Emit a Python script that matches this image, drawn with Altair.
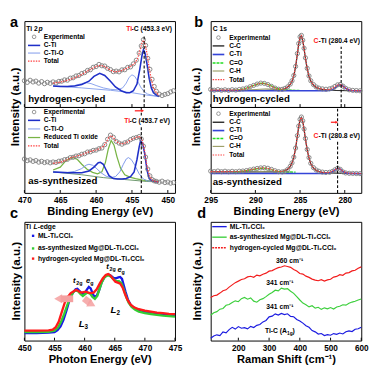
import altair as alt
import pandas as pd

FONT = "Liberation Sans"
W, HAB, HCD = 156, 89, 123

# ================= DATA =================
# --- Panel a: Ti 2p XPS ---
a_exp_E = [470.0, 469.6, 469.2, 468.8, 468.4, 468.0, 467.6, 467.2, 466.8, 466.4, 466.0, 465.6, 465.2, 464.8,
           464.4, 464.0, 463.6, 463.2, 462.8, 462.4, 462.0, 461.6, 461.2, 460.8, 460.4, 460.0, 459.6, 459.2,
           458.8, 458.4, 458.0, 457.6, 457.2, 456.8, 456.4, 456.0, 455.6, 455.2, 454.8, 454.4, 454.0,
           453.7, 453.4, 453.1, 452.8, 452.5, 452.2, 451.9, 451.6,
           451.2, 450.8, 450.4, 450.0, 449.6, 449.2]
a1_exp_v = [27.5, 25.8, 28.0, 26.2, 27.1, 25.0, 26.6, 24.4, 25.9, 24.8, 26.3, 25.2, 26.8, 27.0,
            28.4, 28.1, 30.2, 30.6, 32.5, 33.0, 35.1, 36.0, 38.3, 39.0, 41.6, 42.4, 44.6, 43.2,
            42.9, 40.5, 39.2, 37.0, 37.6, 36.8, 38.9, 39.0, 41.5, 42.0, 45.2, 49.0, 56.5,
            64.0, 70.5, 64.5, 51.0, 39.5, 29.0, 21.5, 16.5,
            13.5, 12.0, 13.2, 14.0, 15.8, 17.0]
a2_exp_v = [35.5, 33.8, 34.6, 33.0, 33.9, 32.2, 33.1, 31.8, 32.6, 31.5, 32.4, 31.9, 33.2, 33.5,
            34.8, 35.2, 37.0, 37.3, 38.6, 38.9, 40.5, 41.0, 42.8, 43.0, 44.5, 44.8, 46.3, 47.0,
            50.5, 56.2, 60.5, 58.3, 54.0, 52.2, 51.0, 52.5, 53.4, 55.8, 57.2, 58.0, 59.0,
            56.5, 49.0, 37.5, 25.0, 17.8, 14.0, 12.6, 12.0,
            11.2, 12.3, 10.8, 11.4, 10.2, 10.8]

a1_bg_E = [466.0, 462.0, 458.0, 455.0, 453.0, 451.2]
a1_bg_v = [22.0, 20.0, 17.5, 15.0, 12.5, 11.0]
a1_cti_E = [466.0, 465.0, 464.0, 463.0, 462.0, 461.0, 460.3, 459.5, 458.8, 458.0, 457.3, 456.5, 455.8,
            455.3, 454.8, 454.3, 453.9, 453.6, 453.4, 453.2, 452.9, 452.6, 452.3, 452.0, 451.6, 451.2]
a1_cti_v = [22.0, 21.5, 21.5, 22.0, 23.5, 27.0, 32.0, 35.3, 33.0, 27.0, 21.0, 17.0, 15.0,
            15.0, 17.0, 24.0, 40.0, 54.0, 60.0, 57.0, 45.0, 30.0, 20.0, 15.0, 12.5, 11.0]
a1_ctio_E = [466.0, 464.0, 463.0, 462.0, 461.4, 460.7, 460.0, 459.0, 458.0, 457.0, 456.3, 455.8, 455.4,
             455.0, 454.6, 454.2, 453.8, 453.3, 452.8, 452.0, 451.2]
a1_ctio_v = [22.0, 21.5, 22.5, 24.5, 25.5, 24.5, 22.5, 20.0, 18.5, 18.0, 20.0, 25.0, 31.0,
             33.7, 32.0, 27.0, 21.0, 16.0, 13.5, 12.0, 11.0]
a1_tot_E = [466.0, 465.0, 464.0, 463.0, 462.0, 461.0, 460.0, 459.5, 459.0, 458.5, 458.0, 457.5, 457.0,
            456.5, 456.0, 455.5, 455.0, 454.6, 454.2, 453.9, 453.6, 453.4, 453.2, 452.9, 452.6, 452.3,
            452.0, 451.6, 451.2]
a1_tot_v = [25.0, 26.0, 28.0, 30.5, 34.0, 38.5, 42.5, 43.5, 43.0, 41.0, 38.5, 37.0, 37.0,
            38.0, 39.5, 41.5, 43.5, 46.0, 51.0, 59.0, 67.0, 70.0, 67.0, 56.0, 41.0, 29.0,
            20.0, 15.0, 12.0]

a2_bg_E = [466.0, 462.0, 459.0, 456.0, 453.0, 451.3]
a2_bg_v = [22.0, 19.0, 16.0, 14.0, 12.0, 11.5]
a2_rto_E = [466.0, 465.0, 464.3, 463.6, 463.2, 462.6, 462.0, 461.3, 460.5, 459.8, 459.2, 458.7, 458.3,
            457.9, 457.5, 457.1, 456.6, 456.0, 455.3, 454.5, 453.5, 452.5, 451.3]
a2_rto_v = [24.0, 27.0, 33.0, 36.5, 37.0, 35.0, 30.0, 25.0, 21.5, 20.0, 22.0, 32.0, 46.0,
            55.0, 50.0, 38.0, 26.0, 19.0, 16.5, 15.0, 13.5, 12.5, 12.0]
a2_cti_E = [466.0, 464.0, 462.0, 461.0, 460.3, 459.7, 459.4, 459.0, 458.6, 458.2, 457.6, 457.0, 456.4,
            455.8, 455.2, 454.7, 454.3, 454.0, 453.8, 453.5, 453.2, 452.9, 452.6, 452.2, 451.3]
a2_cti_v = [22.0, 21.0, 21.0, 23.0, 27.0, 31.5, 32.0, 30.0, 24.0, 18.0, 15.0, 14.5, 14.5,
            15.0, 17.0, 22.0, 35.0, 48.0, 54.5, 52.0, 40.0, 24.0, 15.0, 12.5, 11.5]
a2_ctio_E = [466.0, 464.0, 463.0, 462.0, 461.4, 461.0, 460.5, 460.0, 459.3, 458.6, 458.0, 457.3, 456.7,
             456.2, 455.8, 455.5, 455.1, 454.6, 454.0, 453.4, 452.8, 451.3]
a2_ctio_v = [22.0, 21.5, 22.5, 25.5, 29.0, 30.0, 29.0, 26.0, 21.0, 17.5, 16.0, 17.0, 22.0,
             30.0, 35.5, 37.0, 35.0, 29.0, 20.0, 14.5, 12.5, 11.5]
a2_tot_E = [466.0, 465.0, 464.0, 463.5, 463.0, 462.0, 461.5, 461.0, 460.5, 460.0, 459.5, 459.0, 458.6,
            458.2, 457.9, 457.6, 457.2, 456.8, 456.3, 455.8, 455.3, 454.8, 454.3, 453.9, 453.6, 453.3,
            453.1, 452.9, 452.6, 452.3, 452.0, 451.3]
a2_tot_v = [31.0, 32.0, 35.0, 37.0, 38.0, 40.0, 41.5, 43.0, 44.0, 45.0, 46.5, 48.5, 53.0,
            58.5, 60.0, 58.0, 54.0, 52.0, 51.5, 52.5, 55.0, 57.0, 58.5, 59.0, 56.0, 47.0,
            37.0, 28.0, 19.0, 14.5, 12.5, 11.5]

# --- Panel b: C 1s XPS ---
b_exp_E = [295.0, 294.6, 294.2, 293.8, 293.4, 293.0, 292.6, 292.2, 291.8, 291.4, 291.0, 290.6, 290.2,
           289.8, 289.4, 289.0, 288.6, 288.2, 287.8, 287.4, 287.0, 286.7, 286.4, 286.1, 285.9, 285.7,
           285.5, 285.3, 285.15, 285.0, 284.85, 284.7, 284.55, 284.4, 284.2, 284.0, 283.8, 283.5,
           283.2, 282.9, 282.5, 282.1, 281.7, 281.4, 281.1, 280.8, 280.5, 280.2, 279.9, 279.5,
           279.1, 278.7, 278.3]
b1_exp_v = [18.4, 17.6, 18.2, 17.5, 18.0, 17.4, 18.1, 17.7, 18.3, 18.9, 19.8, 21.2, 22.6,
            24.0, 25.0, 24.7, 23.5, 21.6, 19.8, 18.6, 18.5, 19.4, 21.0, 24.0, 27.5, 33.0,
            42.5, 56.0, 66.5, 73.5, 75.0, 70.0, 61.5, 51.5, 40.5, 32.5, 27.5, 23.5,
            21.0, 19.8, 19.0, 18.6, 19.0, 19.8, 21.5, 23.2, 23.6, 21.8, 19.6, 18.0,
            17.4, 17.2, 17.0]
b2_exp_v = [22.8, 22.3, 22.9, 22.2, 22.7, 22.1, 22.6, 22.2, 22.7, 22.9, 23.4, 24.1, 24.9,
            25.6, 26.2, 26.4, 25.8, 24.6, 23.2, 22.2, 22.0, 22.6, 24.5, 27.8, 31.5, 37.5,
            47.0, 60.0, 70.0, 77.0, 79.5, 75.5, 67.0, 57.0, 45.5, 37.0, 31.0, 26.5,
            24.0, 22.7, 21.8, 21.4, 21.6, 22.4, 24.2, 25.9, 24.6, 22.0, 20.9, 20.5,
            20.4, 20.3, 20.2]

b_cc_E = [295.0, 289.0, 287.5, 287.0, 286.7, 286.4, 286.1, 285.9, 285.7, 285.5, 285.3, 285.15, 285.0,
          284.85, 284.7, 284.55, 284.4, 284.2, 284.0, 283.8, 283.5, 283.2, 282.9, 282.5, 282.0,
          281.0, 279.5, 278.2]
b1_cc_v = [17.4, 17.5, 17.8, 18.3, 19.2, 20.8, 23.6, 27.0, 32.6, 42.0, 55.5, 66.0, 73.0,
           74.5, 69.5, 61.0, 51.0, 40.0, 32.0, 27.0, 23.0, 20.5, 19.3, 18.5, 17.9,
           17.4, 17.1, 17.0]
b2_cc_v = [22.0, 22.0, 22.1, 22.4, 23.0, 24.6, 27.6, 31.2, 37.2, 46.6, 59.6, 69.5, 76.5,
           79.0, 75.0, 66.5, 56.5, 45.0, 36.5, 30.5, 26.0, 23.6, 22.3, 21.4, 20.9,
           20.6, 20.4, 20.2]
b_tot_E = [295.0, 292.0, 291.4, 291.0, 290.6, 290.2, 289.8, 289.4, 289.0, 288.6, 288.2, 287.8, 287.4,
           287.0, 286.7, 286.4, 286.1, 285.9, 285.7, 285.5, 285.3, 285.15, 285.0, 284.85, 284.7,
           284.55, 284.4, 284.2, 284.0, 283.8, 283.5, 283.2, 282.9, 282.5, 282.0, 281.7, 281.4,
           281.1, 280.8, 280.5, 280.2, 279.9, 279.5, 279.1, 278.2]
b1_tot_v = [17.6, 17.7, 18.6, 19.6, 21.0, 22.6, 24.0, 24.9, 24.6, 23.4, 21.6, 19.8, 18.7,
            18.6, 19.4, 20.9, 23.8, 27.2, 32.8, 42.2, 55.7, 66.2, 73.2, 74.7, 69.7,
            61.2, 51.2, 40.2, 32.2, 27.2, 23.2, 20.7, 19.5, 18.8, 18.1, 18.5, 19.5,
            21.3, 23.0, 23.5, 21.7, 19.5, 17.9, 17.3, 17.0]
b2_tot_v = [22.3, 22.4, 22.9, 23.4, 24.1, 24.9, 25.6, 26.1, 26.2, 25.7, 24.6, 23.3, 22.4,
            22.5, 23.1, 24.7, 27.7, 31.3, 37.3, 46.7, 59.7, 69.6, 76.6, 79.1, 75.1,
            66.6, 56.6, 45.1, 36.6, 30.6, 26.1, 23.7, 22.4, 21.5, 21.3, 21.6, 22.5,
            24.2, 25.8, 24.8, 22.6, 21.2, 20.6, 20.4, 20.3]
b1_cti_E = [295.0, 283.0, 282.0, 281.6, 281.3, 281.0, 280.75, 280.5, 280.25, 280.0, 279.7, 279.3, 278.2]
b1_cti_v = [17.0, 17.0, 17.1, 17.6, 18.6, 20.6, 22.6, 23.4, 22.4, 20.2, 18.3, 17.3, 17.0]
b2_cti_E = [295.0, 283.0, 282.2, 281.8, 281.5, 281.2, 280.95, 280.75, 280.5, 280.25, 280.0, 279.6, 278.2]
b2_cti_v = [20.3, 20.3, 20.4, 20.8, 21.6, 23.2, 25.0, 25.8, 24.8, 22.7, 21.2, 20.5, 20.2]
b1_co_E = [292.5, 291.8, 291.2, 290.6, 290.0, 289.5, 289.2, 288.8, 288.3, 287.8, 287.3, 286.7, 286.0, 285.0]
b1_co_v = [17.5, 18.0, 19.3, 21.0, 23.2, 24.6, 24.9, 24.3, 22.4, 20.2, 18.6, 17.8, 17.5, 17.4]
b2_co_E = [292.5, 291.8, 291.2, 290.6, 290.0, 289.5, 289.1, 288.7, 288.2, 287.7, 287.2, 286.5, 285.5]
b2_co_v = [21.9, 22.3, 23.1, 24.0, 25.0, 25.7, 25.9, 25.5, 24.3, 23.0, 22.2, 21.9, 21.8]
b1_ch_E = [291.5, 290.5, 289.5, 288.8, 288.0, 287.2, 286.3, 285.5]
b1_ch_v = [17.5, 17.9, 18.6, 19.0, 18.7, 18.1, 17.6, 17.4]
b2_ch_E = [291.0, 290.0, 289.0, 288.3, 287.6, 286.8, 286.0]
b2_ch_v = [21.8, 22.1, 22.6, 22.8, 22.5, 22.1, 21.8]

# --- Panel c: Ti L-edge XAS ---
c_ml_E = [450.0, 452.0, 454.0, 455.0, 455.5, 456.0, 456.5, 457.0, 457.5, 458.0, 458.5, 458.8, 459.2,
          459.6, 460.0, 460.4, 460.7, 461.0, 461.3, 461.6, 462.0, 462.4, 462.8, 463.2, 463.6, 464.0,
          464.4, 464.8, 465.2, 465.6, 465.9, 466.2, 466.5, 466.8, 467.2, 467.7, 468.3, 469.0, 470.0,
          471.0, 472.0, 473.0, 474.0, 475.0]
c_ml_v = [8.0, 8.0, 8.3, 9.0, 11.0, 15.0, 22.0, 32.0, 43.0, 50.0, 54.0, 54.5, 52.0,
          49.0, 50.0, 54.0, 56.5, 55.0, 50.0, 46.0, 47.0, 53.0, 61.0, 66.0, 68.5, 69.5,
          68.0, 66.0, 65.5, 66.5, 67.0, 65.0, 58.0, 51.0, 43.0, 37.0, 34.0, 32.0, 30.5,
          29.5, 28.5, 27.8, 27.2, 26.8]
c_as_E = [450.0, 452.0, 454.0, 455.0, 455.6, 456.1, 456.6, 457.1, 457.6, 458.1, 458.5, 458.9, 459.3,
          459.7, 460.1, 460.5, 460.9, 461.3, 461.7, 462.1, 462.5, 462.9, 463.3, 463.7, 464.1, 464.5,
          464.9, 465.3, 465.7, 466.1, 466.5, 466.9, 467.3, 467.8, 468.4, 469.0, 470.0, 471.0, 472.0,
          473.0, 474.0, 475.0]
c_as_v = [9.0, 9.0, 9.3, 10.5, 14.0, 20.0, 28.0, 37.0, 45.0, 51.0, 53.0, 52.0, 49.0,
          47.0, 49.0, 50.5, 49.5, 46.0, 44.0, 47.0, 55.0, 62.0, 66.5, 68.5, 68.5, 66.5,
          64.0, 62.5, 62.5, 60.5, 54.0, 46.0, 40.0, 35.5, 32.5, 30.5, 29.0, 28.0, 27.0,
          26.3, 25.8, 25.3]
c_hc_E = [450.0, 452.0, 454.0, 454.7, 455.2, 455.7, 456.2, 456.7, 457.2, 457.7, 458.2, 458.6, 459.0,
          459.4, 459.8, 460.2, 460.6, 461.0, 461.5, 462.0, 462.5, 463.0, 463.5, 463.9, 464.3, 464.7,
          465.1, 465.5, 465.9, 466.3, 466.7, 467.1, 467.6, 468.2, 469.0, 470.0, 471.0, 472.0, 473.0,
          474.0, 475.0]
c_hc_v = [10.5, 10.5, 10.8, 11.5, 14.0, 20.0, 30.0, 40.0, 46.0, 50.0, 52.0, 53.5, 52.0,
          50.5, 51.0, 51.5, 50.5, 50.0, 50.5, 54.0, 60.0, 65.5, 69.0, 70.0, 68.5, 65.0,
          62.0, 61.0, 60.0, 56.0, 49.0, 43.0, 38.0, 35.0, 33.0, 31.5, 30.5, 29.5, 28.8,
          28.2, 27.8]

# --- Panel d: Raman ---
d_R = [110, 120, 130, 140, 150, 160, 170, 180, 190, 200, 210, 220, 230, 240, 250, 260, 270, 280, 290,
       300, 310, 320, 330, 340, 350, 360, 370, 380, 390, 400, 410, 420, 430, 440, 450, 460, 470, 480,
       490, 500, 510, 520, 530, 540, 550, 560, 570, 580, 590, 600]
d_ml_v = [2.5, 4.8, 6.0, 5.2, 9.0, 8.1, 11.5, 13.8, 12.0, 14.6, 12.9, 13.5, 12.2, 14.8, 13.6, 15.9,
          16.8, 19.5, 21.0, 24.8, 25.5, 27.9, 26.6, 28.4, 27.2, 28.0, 25.3, 24.9, 22.0, 20.5, 18.2,
          15.6, 13.9, 10.5, 9.1, 6.8, 7.4, 5.3, 6.2, 5.6, 7.3, 6.5, 7.9, 6.9, 9.2, 10.1, 9.4, 11.8,
          12.4, 14.0]
d_as_v = [26.5, 29.0, 30.2, 32.8, 33.5, 36.9, 37.6, 39.8, 41.5, 40.6, 43.8, 45.0, 43.2, 44.5, 41.2,
          40.1, 42.6, 43.8, 45.9, 48.3, 50.2, 52.6, 51.9, 54.8, 53.7, 54.2, 51.5, 49.3, 46.0, 42.4,
          39.1, 37.5, 35.2, 36.4, 33.9, 34.8, 32.6, 34.2, 33.1, 34.5, 32.9, 35.1, 35.8, 37.4, 37.0,
          38.9, 40.2, 41.0, 42.3, 43.5]
d_hc_v = [45.0, 46.8, 47.5, 49.6, 52.1, 53.0, 55.8, 58.2, 60.5, 62.1, 63.8, 64.6, 66.5, 67.2, 66.1,
          68.4, 67.6, 69.3, 70.4, 72.5, 73.1, 74.8, 76.2, 76.9, 78.1, 77.4, 76.5, 74.2, 72.6, 70.1,
          69.4, 67.3, 66.0, 64.2, 63.1, 62.5, 63.6, 62.2, 63.4, 64.1, 66.3, 67.0, 68.8, 68.2, 70.5,
          71.0, 72.8, 73.5, 75.6, 77.0]

# tick values
a_ticks = [450, 455, 460, 465, 470]
b_ticks = [280, 285, 290, 295]
c_ticks = [450, 455, 460, 465, 470, 475]
d_ticks = [200, 300, 400, 500, 600]

# ================= COLORS =================
GRAY = "#7c7c7c"
DBLUE = "#1f2fc8"
LBLUE = "#7d98ea"
GREEN_A = "#78b445"
RED = "#ff4040"
BLACK = "#333333"
CTI_B = "#3444d8"
CO_GREEN = "#22dd22"
CH_OLIVE = "#9ea06a"


def frame(E, v):
    return pd.DataFrame({"E": E, "v": v})


def encs(dom, rev, ydom, axis):
    X = alt.X("E:Q", scale=alt.Scale(domain=dom, reverse=rev, nice=False, zero=False), axis=axis)
    Y = alt.Y("v:Q", scale=alt.Scale(domain=ydom, nice=False, zero=False), axis=None)
    return X, Y


def xaxis(vals, title):
    return alt.Axis(values=vals, ticks=False, domain=False, grid=False, labelFontSize=8.5,
                    labelFontWeight="bold", labelPadding=3, labelFlush=False, labelOverlap=False,
                    title=title, titleFontSize=11.5, titleFontWeight="bold", titlePadding=2,
                    labelColor="black", titleColor="black")


def line(X, Y, E, v, color, width=1.0, dash=None):
    kw = dict(color=color, strokeWidth=width)
    if dash:
        kw["strokeDash"] = dash
    return alt.Chart(frame(E, v)).mark_line(**kw).encode(x=X, y=Y)


def pts(X, Y, E, v, size=19):
    return alt.Chart(frame(E, v)).mark_point(shape="circle", filled=False, size=size, color=GRAY,
                                             strokeWidth=0.9, opacity=1).encode(x=X, y=Y)


def vrule(X, Y, E, v1, v2, color="black", width=1.0, dash=None):
    d = pd.DataFrame({"E": [E], "v": [v1], "v2": [v2]})
    kw = dict(color=color, strokeWidth=width)
    if dash:
        kw["strokeDash"] = dash
    return alt.Chart(d).mark_rule(**kw).encode(x=X, y=Y, y2="v2:Q")


def hseg(X, Y, E1, E2, v, color, width=1.0, dash=None):
    d = pd.DataFrame({"E": [E1], "E2": [E2], "v": [v]})
    kw = dict(color=color, strokeWidth=width)
    if dash:
        kw["strokeDash"] = dash
    return alt.Chart(d).mark_rule(**kw).encode(x=X, x2="E2:Q", y=Y)


def ticks(X, Y, vals, h):
    d = pd.DataFrame({"E": vals, "v": [0.0] * len(vals), "v2": [h] * len(vals)})
    return alt.Chart(d).mark_rule(color="black", strokeWidth=1).encode(x=X, y=Y, y2="v2:Q")


def txt(X, Y, E, v, t, size=7, color="black", align="left", style="normal", dx=0, dy=0,
        weight="bold", baseline="middle"):
    d = pd.DataFrame({"E": [E], "v": [v], "t": [t]})
    return alt.Chart(d).mark_text(fontSize=size, fontWeight=weight, color=color, align=align,
                                  baseline=baseline, fontStyle=style, dx=dx, dy=dy).encode(
        x=X, y=Y, text="t:N")


def ptxt(t, x, y, size, align="left", baseline="alphabetic", angle=0, weight="bold"):
    d = pd.DataFrame({"t": [t]})
    return alt.Chart(d).mark_text(fontSize=size, fontWeight=weight, align=align, baseline=baseline,
                                  angle=angle, color="black").encode(
        x=alt.value(x), y=alt.value(y), text="t:N")


def marker(X, Y, E, v, shape, color, size, filled=True, angle=0, opacity=1.0):
    d = pd.DataFrame({"E": [E], "v": [v]})
    return alt.Chart(d).mark_point(shape=shape, filled=filled, size=size, color=color,
                                   angle=angle, opacity=opacity, strokeWidth=0.8).encode(x=X, y=Y)


# ================= PANEL a =================
X, Y = encs([449.0, 470.0], True, [0, 90], None)
LEa = [469.5, 467.8]
LTa = 467.3
a1 = alt.layer(
    ticks(X, Y, a_ticks, 3),
    line(X, Y, a1_bg_E, a1_bg_v, LBLUE, 0.9),
    line(X, Y, a1_ctio_E, a1_ctio_v, LBLUE, 0.9),
    line(X, Y, a1_cti_E, a1_cti_v, DBLUE, 1.6),
    pts(X, Y, a_exp_E, a1_exp_v),
    line(X, Y, a1_tot_E, a1_tot_v, RED, 1.2, [1.5, 1.2]),
    vrule(X, Y, 453.3, 0, 75, "black", 1.1, [3, 2]),
    txt(X, Y, 469.73, 82, "Ti 2"),
    txt(X, Y, 469.73, 82, "p", style="italic", dx=12.5),
    txt(X, Y, 449.4, 82, "-C (453.3 eV)", align="right"),
    txt(X, Y, 449.4, 82, "Ti", align="right", color="#ff2020", dx=-41.5),
    marker(X, Y, 468.65, 73.5, "circle", GRAY, 14, filled=False),
    txt(X, Y, LTa, 73.5, "Experimental", size=6.8),
    hseg(X, Y, LEa[0], LEa[1], 64.5, DBLUE, 1.6),
    txt(X, Y, LTa, 64.5, "C-Ti", size=6.8),
    hseg(X, Y, LEa[0], LEa[1], 56.5, LBLUE, 1.0),
    txt(X, Y, LTa, 56.5, "C-Ti-O", size=6.8),
    hseg(X, Y, LEa[0], LEa[1], 48, RED, 1.2, [1.5, 1.2]),
    txt(X, Y, LTa, 48, "Total", size=6.8),
    txt(X, Y, 469.47, 8, "hydrogen-cycled", size=10),
    ptxt("a", -15, 6, 15),
    ptxt("Intensity (a.u.)", -10, HAB, 12, align="center", baseline="middle", angle=270),
).properties(width=W, height=HAB)

X, Y = encs([449.0, 470.0], True, [0, 90], xaxis(a_ticks, "Binding Energy (eV)"))
a2 = alt.layer(
    ticks(X, Y, a_ticks, 3),
    line(X, Y, a2_bg_E, a2_bg_v, "#5a8a5a", 0.9),
    line(X, Y, a2_rto_E, a2_rto_v, GREEN_A, 1.3),
    line(X, Y, a2_ctio_E, a2_ctio_v, LBLUE, 1.0),
    line(X, Y, a2_cti_E, a2_cti_v, DBLUE, 1.6),
    pts(X, Y, a_exp_E, a2_exp_v),
    line(X, Y, a2_tot_E, a2_tot_v, RED, 1.2, [1.5, 1.2]),
    vrule(X, Y, 453.7, 0, 70, "black", 1.1, [3, 2]),
    vrule(X, Y, 453.7, 81, 90, "black", 1.1, [3, 2]),
    hseg(X, Y, 454.6, 453.55, 86, "#ff2020", 1.3),
    marker(X, Y, 453.5, 86, "triangle-right", "#ff2020", 10),
    txt(X, Y, 449.68, 75.3, "-C (453.7 eV)", align="right"),
    txt(X, Y, 449.68, 75.3, "Ti", align="right", color="#ff2020", dx=-41.5),
    marker(X, Y, 468.65, 84.7, "circle", GRAY, 14, filled=False),
    txt(X, Y, LTa, 84.7, "Experimental", size=6.8),
    hseg(X, Y, LEa[0], LEa[1], 76, DBLUE, 1.6),
    txt(X, Y, LTa, 76, "C-Ti", size=6.8),
    hseg(X, Y, LEa[0], LEa[1], 67, LBLUE, 1.0),
    txt(X, Y, LTa, 67, "C-Ti-O", size=6.8),
    hseg(X, Y, LEa[0], LEa[1], 58, GREEN_A, 1.3),
    txt(X, Y, LTa, 58, "Reduced Ti oxide", size=6.8),
    hseg(X, Y, LEa[0], LEa[1], 49.3, RED, 1.2, [1.5, 1.2]),
    txt(X, Y, LTa, 49.3, "Total", size=6.8),
    txt(X, Y, 469.47, 12, "as-synthesized", size=10),
).properties(width=W, height=HAB)

# ================= PANEL b =================
X, Y = encs([278.15, 295.0], True, [0, 90], None)
LEb = [294.78, 293.48]
LTb = 292.93
b1 = alt.layer(
    ticks(X, Y, b_ticks, 3),
    line(X, Y, b_cc_E, b1_cc_v, BLACK, 1.3),
    line(X, Y, b1_ch_E, b1_ch_v, CH_OLIVE, 1.0),
    line(X, Y, b1_co_E, b1_co_v, CO_GREEN, 1.4, [3, 1]),
    line(X, Y, b1_cti_E, b1_cti_v, CTI_B, 1.7),
    pts(X, Y, b_exp_E, b1_exp_v),
    line(X, Y, b_tot_E, b1_tot_v, RED, 1.2, [1.5, 1.2]),
    vrule(X, Y, 280.4, 0, 63, "black", 1.1, [3, 2]),
    txt(X, Y, 294.78, 82, "C 1s"),
    txt(X, Y, 278.3, 68.7, "-Ti (280.4 eV)", align="right"),
    txt(X, Y, 278.3, 68.7, "C", align="right", color="#ff2020", dx=-43),
    marker(X, Y, 294.13, 72.7, "circle", GRAY, 14, filled=False),
    txt(X, Y, LTb, 72.7, "Experimental", size=6.8),
    hseg(X, Y, LEb[0], LEb[1], 64, BLACK, 1.5),
    txt(X, Y, LTb, 64, "C-C", size=6.8),
    hseg(X, Y, LEb[0], LEb[1], 55, CTI_B, 1.7),
    txt(X, Y, LTb, 55, "C-Ti", size=6.8),
    hseg(X, Y, LEb[0], LEb[1], 46, CO_GREEN, 1.5, [3, 1]),
    txt(X, Y, LTb, 46, "C=O", size=6.8),
    hseg(X, Y, LEb[0], LEb[1], 37.7, CH_OLIVE, 1.2),
    txt(X, Y, LTb, 37.7, "C-H", size=6.8),
    hseg(X, Y, LEb[0], LEb[1], 28.7, RED, 1.2, [1.5, 1.2]),
    txt(X, Y, LTb, 28.7, "Total", size=6.8),
    txt(X, Y, 294.78, 8, "hydrogen-cycled", size=10),
    ptxt("b", -17, 6, 15),
    ptxt("Intensity (a.u.)", -15, HAB, 12, align="center", baseline="middle", angle=270),
).properties(width=W, height=HAB)

X, Y = encs([278.15, 295.0], True, [0, 90], xaxis(b_ticks, "Binding Energy (eV)"))
b2 = alt.layer(
    ticks(X, Y, b_ticks, 3),
    line(X, Y, b_cc_E, b2_cc_v, BLACK, 1.3),
    line(X, Y, b2_ch_E, b2_ch_v, CH_OLIVE, 1.0),
    line(X, Y, b2_co_E, b2_co_v, CO_GREEN, 1.4, [3, 1]),
    line(X, Y, b2_cti_E, b2_cti_v, CTI_B, 1.7),
    pts(X, Y, b_exp_E, b2_exp_v),
    line(X, Y, b_tot_E, b2_tot_v, RED, 1.2, [1.5, 1.2]),
    vrule(X, Y, 280.8, 0, 55.5, "black", 1.1, [3, 2]),
    vrule(X, Y, 280.8, 65, 90, "black", 1.1, [3, 2]),
    hseg(X, Y, 281.55, 280.95, 74, "#ff2020", 1.3),
    marker(X, Y, 280.9, 74, "triangle-right", "#ff2020", 10),
    txt(X, Y, 278.3, 60, "-Ti (280.8 eV)", align="right"),
    txt(X, Y, 278.3, 60, "C", align="right", color="#ff2020", dx=-43),
    marker(X, Y, 294.13, 83, "circle", GRAY, 14, filled=False),
    txt(X, Y, LTb, 83, "Experimental", size=6.8),
    hseg(X, Y, LEb[0], LEb[1], 74, BLACK, 1.5),
    txt(X, Y, LTb, 74, "C-C", size=6.8),
    hseg(X, Y, LEb[0], LEb[1], 65.3, CTI_B, 1.7),
    txt(X, Y, LTb, 65.3, "C-Ti", size=6.8),
    hseg(X, Y, LEb[0], LEb[1], 57, CO_GREEN, 1.5, [3, 1]),
    txt(X, Y, LTb, 57, "C=O", size=6.8),
    hseg(X, Y, LEb[0], LEb[1], 48.7, CH_OLIVE, 1.2),
    txt(X, Y, LTb, 48.7, "C-H", size=6.8),
    hseg(X, Y, LEb[0], LEb[1], 39.7, RED, 1.2, [1.5, 1.2]),
    txt(X, Y, LTb, 39.7, "Total", size=6.8),
    txt(X, Y, 294.78, 11, "as-synthesized", size=10),
).properties(width=W, height=HAB)

# ================= PANEL c =================
C_BLUE, C_GREEN, C_RED = "#1818e8", "#33cc33", "#ff1a1a"
PINK = "#f4a0a0"
X, Y = encs([450.0, 475.0], False, [0, 125], xaxis(c_ticks, "Photon Energy (eV)"))
c = alt.layer(
    ticks(X, Y, c_ticks, 3),
    line(X, Y, c_ml_E, c_ml_v, C_BLUE, 2.4),
    line(X, Y, c_as_E, c_as_v, C_GREEN, 2.4),
    line(X, Y, c_hc_E, c_hc_v, C_RED, 2.4),
    hseg(X, Y, 458.1, 456.0, 44, PINK, 7),
    marker(X, Y, 455.6, 44, "triangle-left", PINK, 90, opacity=0.85),
    alt.Chart(pd.DataFrame({"E": [459.9], "v": [44.5], "E2": [460.9], "v2": [39.5]})).mark_rule(
        color=PINK, strokeWidth=7, opacity=0.85).encode(x=X, y=Y, x2="E2:Q", y2="v2:Q"),
    marker(X, Y, 461.2, 38.2, "triangle-right", PINK, 90, angle=28, opacity=0.85),
    txt(X, Y, 450.16, 119, "Ti "),
    txt(X, Y, 450.16, 119, "L", style="italic", dx=8.4),
    txt(X, Y, 450.16, 119, "-edge", dx=12.8),
    marker(X, Y, 451.44, 110.3, "square", C_BLUE, 6),
    txt(X, Y, 452.24, 110.3, "ML-Ti₂CClₓ"),
    marker(X, Y, 451.44, 97, "square", C_GREEN, 6),
    txt(X, Y, 452.24, 97, "as-synthesized Mg@DL-Ti₂CClₓ"),
    marker(X, Y, 451.44, 86.3, "square", C_RED, 6),
    txt(X, Y, 452.24, 86.3, "hydrogen-cycled Mg@DL-Ti₂CClₓ"),
    txt(X, Y, 458.3, 63, "t", size=8, style="italic", align="center"),
    txt(X, Y, 458.3, 63, "2g", size=5.5, dx=2, dy=2),
    txt(X, Y, 460.6, 63, "e", size=8, style="italic", align="center"),
    txt(X, Y, 460.6, 63, "g", size=5.5, dx=2, dy=2),
    txt(X, Y, 463.8, 77, "t", size=8, style="italic", align="center"),
    txt(X, Y, 463.8, 77, "2g", size=5.5, dx=2, dy=2),
    txt(X, Y, 465.8, 74, "e", size=8, style="italic", align="center"),
    txt(X, Y, 465.8, 74, "g", size=5.5, dx=2, dy=2),
    txt(X, Y, 459.5, 17, "L", size=10, style="italic", align="center"),
    txt(X, Y, 459.5, 17, "3", size=6.5, dx=3, dy=3),
    txt(X, Y, 464.8, 32, "L", size=10, style="italic", align="center"),
    txt(X, Y, 464.8, 32, "2", size=6.5, dx=3, dy=3),
    ptxt("c", -15, -4, 15),
    ptxt("Intensity (a.u.)", -9, HCD / 2, 12, align="center", baseline="middle", angle=270),
).properties(width=W, height=HCD)

# ================= PANEL d =================
D_BLUE, D_GREEN, D_RED = "#1a1ae0", "#3ccf3c", "#f21c1c"
X, Y = encs([110, 600], False, [0, 124], xaxis(d_ticks, "Raman Shift (cm⁻¹)"))
d = alt.layer(
    ticks(X, Y, d_ticks, 3),
    line(X, Y, d_R, d_ml_v, D_BLUE, 1.2),
    line(X, Y, d_R, d_as_v, D_GREEN, 1.2),
    line(X, Y, d_R, d_hc_v, D_RED, 1.2),
    hseg(X, Y, 115, 162, 119, D_BLUE, 1.4),
    txt(X, Y, 172, 119, "ML-Ti₂CClₓ"),
    hseg(X, Y, 115, 162, 108, D_GREEN, 1.4),
    txt(X, Y, 172, 108, "as-synthesized Mg@DL-Ti₂CClₓ"),
    hseg(X, Y, 115, 162, 97, D_RED, 1.4, [2, 1]),
    txt(X, Y, 172, 97, "hydrogen-cycled Mg@DL-Ti₂CClₓ"),
    txt(X, Y, 367, 83.5, "360 cm⁻¹", align="center"),
    txt(X, Y, 335, 60, "341 cm⁻¹", align="center"),
    txt(X, Y, 335, 35, "341 cm⁻¹", align="center"),
    txt(X, Y, 335, 10, "Ti-C (A", dx=-15.5),
    txt(X, Y, 335, 10, "1g", size=5, dx=7.4, dy=2),
    txt(X, Y, 335, 10, ")", dx=13.2),
    ptxt("d", -14, -4, 15),
    ptxt("Intensity (a.u.)", -14, HCD / 2, 12, align="center", baseline="middle", angle=270),
).properties(width=W, height=HCD)


def spacer():
    return alt.Chart(pd.DataFrame({"t": [""]})).mark_text(opacity=0).encode(
        x=alt.value(0), y=alt.value(0), text="t:N"
    ).properties(width=W, height=30, view=alt.ViewBackground(stroke="transparent"))


chart = alt.concat(a1, b1, a2, b2, spacer(), spacer(), c, d, columns=2,
                   spacing={"row": 0, "column": 37}, bounds="flush").properties(
    padding=0, background="white"
).configure(font=FONT).configure_view(stroke="black", strokeWidth=1)

chart.save("out.html", embed_options={"renderer": "svg", "actions": False})
